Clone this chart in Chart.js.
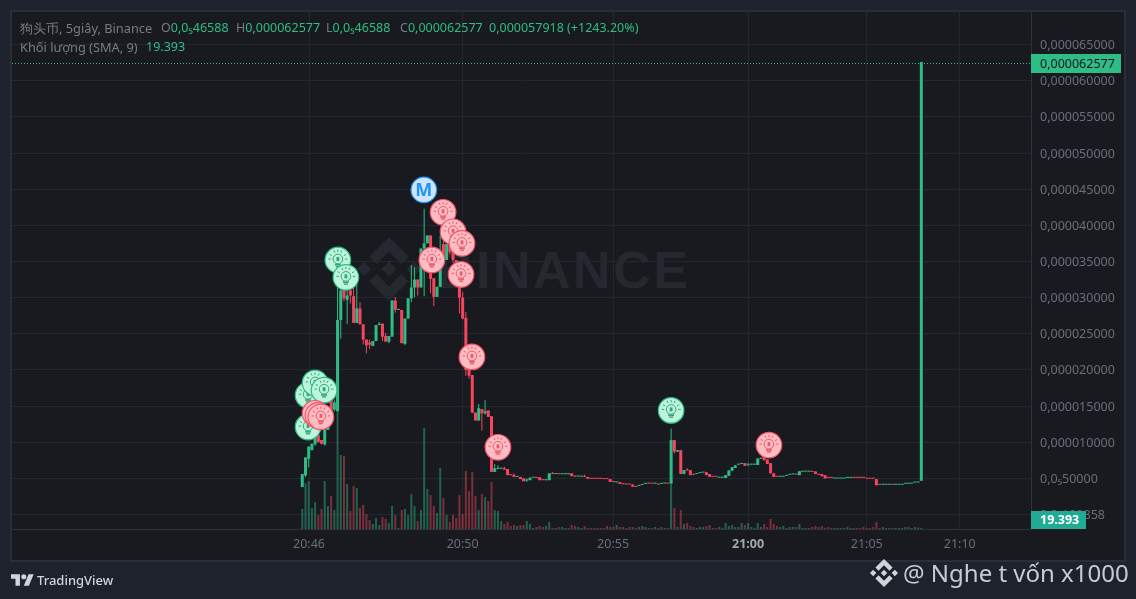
<!DOCTYPE html>
<html>
<head>
<meta charset="utf-8">
<title>狗头币, 5giây, Binance</title>
<script src="https://cdn.jsdelivr.net/npm/chart.js@4"></script>
<style>
    html, body { margin: 0; padding: 0; background: #1e222d; overflow: hidden; }
    body { width: 1136px; height: 599px; position: relative; font-family: "Noto Sans", sans-serif; }
    #panel { position: absolute; left: 10px; top: 10px; width: 1112px; height: 548px; background: #181a20; border: 2px solid #2a2e39; }
    #chart { position: absolute; left: 0; top: 0; }
    .wm { position: absolute; color: #25282f; fill: #25282f; }
    .t { position: absolute; font-size: 12.5px; line-height: 16px; white-space: nowrap; color: #787b86; }
    .g { color: #2ebd85; }
</style>
</head>
<body>
<div id="panel"></div>
<svg class="wm" style="left:357px;top:237px" width="64" height="64" viewBox="0 0 126.61 126.61">
    <polygon points="38.73,53.2 63.31,28.62 87.9,53.21 102.2,38.91 63.31,0 24.42,38.9"/>
    <polygon points="38.73,73.41 63.31,97.99 87.9,73.4 102.21,87.69 63.31,126.61 24.42,87.71"/>
    <polygon points="14.3,49 28.6,63.3 14.3,77.6 0,63.3"/>
    <polygon points="112.3,49 126.6,63.3 112.3,77.6 98,63.3"/>
    <polygon points="63.3,48.8 77.8,63.3 63.3,77.8 48.8,63.3"/>
</svg>
<div class="wm" style="left:436px;top:235px;font:bold 52px 'Liberation Sans',sans-serif;line-height:70px;letter-spacing:2.5px">BINANCE</div>
<canvas id="chart" width="1136" height="599"></canvas>

<div class="t" style="left:20px;top:20px;font-size:12.8px">狗头币, 5giây, Binance</div>
<div class="t" style="left:161px;top:20px">O<span class="g">0,0₅46588</span></div>
<div class="t" style="left:236px;top:20px">H<span class="g">0,000062577</span></div>
<div class="t" style="left:326px;top:20px">L<span class="g">0,0₅46588</span></div>
<div class="t" style="left:400px;top:20px">C<span class="g">0,000062577</span></div>
<div class="t g" style="left:489px;top:20px">0,000057918 (+1243.20%)</div>
<div class="t" style="left:20px;top:39px;font-size:12.8px">Khối lượng (SMA, 9)</div>
<div class="t g" style="left:146px;top:39px">19.393</div>

<svg style="position:absolute;left:11px;top:573px" width="23" height="14" viewBox="0 3 36 20" fill="#d1d4dc">
    <path d="M14 22H7V11H0V4h14v18zM28 22h-8l7.5-18h8L28 22z"/><circle cx="20" cy="8" r="4"/>
</svg>
<div class="t" style="left:37px;top:572px;font-size:13px;color:#d1d4dc;font-weight:500">TradingView</div>

<svg style="position:absolute;left:870px;top:559px" width="28" height="28" viewBox="0 0 126.61 126.61" fill="#d0d3d8">
    <polygon points="38.73,53.2 63.31,28.62 87.9,53.21 102.2,38.91 63.31,0 24.42,38.9"/>
    <polygon points="38.73,73.41 63.31,97.99 87.9,73.4 102.21,87.69 63.31,126.61 24.42,87.71"/>
    <polygon points="14.3,49 28.6,63.3 14.3,77.6 0,63.3"/>
    <polygon points="112.3,49 126.6,63.3 112.3,77.6 98,63.3"/>
    <polygon points="63.3,48.8 77.8,63.3 63.3,77.8 48.8,63.3"/>
</svg>
<div class="t" style="left:903px;top:558px;font-size:24px;line-height:30px;color:#c8ccd2">@ Nghe t vốn x1000</div>

<script>
// prices are in units of 0.000001
const opens = [
    3.8,5.4,7.7,8.9,9.7,11,10.3,9.7,11.7,15.8,
    14.5,14.3,26.9,31.9,29.7,31,30.2,26.5,28.5,26.3,
    24.2,23.8,23.3,24,26.2,26.4,24.7,23.9,24.6,29.6,
    28.3,28.3,23.6,27.1,29.9,31.4,32.5,31.4,36.8,37.5,
    38.6,32.7,30.1,31.5,37.4,35.2,37.4,36.3,35.2,33,
    30,27.2,20,19.3,14.1,13,14.6,14,14.4,13.6,
    5.9,6.3,6.35,6.4,6.3,5.5,5.45,5.2,5.2,5,
    4.7,4.75,5.1,5.12,5.15,4.8,4.75,4.75,5.7,5.6,
    5.62,5.58,5.58,5.58,5.7,5.35,5.25,5.25,5.3,5.2,
    5,5,5,5,5,5,4.9,4.55,4.45,4.5,
    4.3,4.2,4.2,4.15,3.9,3.97,4.1,4.25,4.32,4.3,
    4.28,4.25,4.25,4.3,4.32,4.3,10.3,8.7,8.9,5.6,
    6.15,6.15,5.55,5.6,5.75,5.8,5.85,5.6,5.27,5.27,
    5.1,5.1,5.05,5.35,6.05,6.45,6.9,7,7.1,6.8,
    6.9,6.9,6.85,7.7,8,7.6,7.1,5.7,5.27,5.22,
    5.22,5.35,5.5,5.55,5.58,5.45,5.93,5.93,5.93,5.96,
    5.95,5.6,5.6,5.45,5.12,5.12,4.98,4.98,4.98,4.98,
    5.07,5.07,5.12,5.12,5.12,5.12,5,5,5,4.9,
    4.17,4.12,4.12,4.12,4.17,4.12,4.12,4.12,4.26,4.26,
    4.28,4.43,4.43,4.6588
];
const closes = [
    5.6,7.9,9.4,9.8,10.7,10,9.8,11.7,14,14.5,
    15.5,26.9,31,29.9,30.3,30.3,26.5,28.5,26.3,24.2,
    23.4,23.5,24,26.2,26.4,24.6,23.9,24.7,29.6,28.3,
    28.35,23.7,27.1,29.9,31.4,32.5,31.4,36.8,37.5,38.6,
    32.6,30.1,31.5,36,35.5,37.4,36.3,35.2,33,30,
    27.1,20,19.2,14.1,13,14.7,14,14.3,13.5,5.9,
    6.4,6.45,6.42,6.2,5.45,5.45,5.2,5.22,4.9,4.6,
    4.85,5.1,5.12,5.05,4.75,4.75,4.78,5.7,5.6,5.62,
    5.58,5.62,5.62,5.62,5.3,5.25,5.3,5.28,5.2,4.95,
    4.95,4.95,4.95,4.95,4.9,4.9,4.5,4.5,4.5,4.25,
    4.2,4.15,4.15,3.85,3.82,4.05,4.2,4.3,4.28,4.27,
    4.32,4.15,4.3,4.33,4.28,10.3,8.7,8.9,5.6,6.15,
    6.1,5.45,5.5,5.65,5.8,5.85,5.45,5.2,5.22,5.22,
    5.13,5.13,5.45,6.1,6.55,6.8,6.95,7.1,6.75,6.9,
    6.95,6.95,7.75,7.85,7.5,7,5.7,5.2,5.22,5.25,
    5.25,5.4,5.55,5.58,5.53,6,5.96,5.96,5.96,5.9,
    5.6,5.5,5.3,5,5.07,5.07,5,5,5,5,
    5.1,5.1,5.08,5.08,5.08,5.08,4.96,4.96,4.96,4.05,
    4.12,4.15,4.15,4.15,4.12,4.15,4.15,4.15,4.3,4.3,
    4.32,4.46,4.46,62.577
];
const lows = [
    3.8,5.2,6.5,8.9,9.5,10,9.7,9.5,11.7,14.5,
    14.3,14.3,24.3,29.5,26.4,29.2,26.5,26.5,26.3,23.5,
    22.3,22.9,23.3,24,26.2,24,23.9,23.7,24.6,27.9,
    28.3,23.7,23.4,27.1,29.4,30,30.3,31.4,30.2,37.5,
    30.6,28.8,30.1,31.5,35.5,35.2,36,34.8,33,27.8,
    27,19.2,18.8,14,13,13,11.6,13.8,13.5,5.9,
    5.9,6.3,6.35,6.2,5.45,5.45,5.2,5.2,4.9,4.6,
    4.5,4.75,5.1,5.05,4.75,4.75,4.75,4.75,5.6,5.6,
    5.58,5.58,5.58,5.58,5.3,5.2,5.25,5.25,5.2,4.95,
    4.95,4.95,4.95,4.95,4.9,4.9,4.5,4.5,4.45,4.25,
    4.2,4.15,4.15,3.85,3.82,3.97,4.1,4.25,4.28,4.27,
    4.28,4.15,4.25,4.3,4.28,4.3,8.45,8.7,5.6,5.6,
    6.1,5.45,5.5,5.6,5.75,5.8,5.45,5.2,5.22,5.22,
    5.1,5.1,5.05,5.35,6.05,6.45,6.9,7,6.75,6.8,
    6.9,6.9,6.85,7.7,7.5,7,5.7,5.2,5.22,5.22,
    5.22,5.35,5.5,5.55,5.53,5.45,5.93,5.93,5.93,5.9,
    5.6,5.5,5.3,5,5.07,5.07,4.98,4.98,4.98,4.98,
    5.07,5.07,5.08,5.08,5.08,5.08,4.96,4.96,4.96,4.05,
    4.12,4.12,4.12,4.12,4.12,4.12,4.12,4.12,4.26,4.26,
    4.28,4.43,4.43,4.6588
];
const highs = [
    5.6,7.9,9.4,9.8,10.7,11.2,10.3,11.7,14,16,
    15.8,31.5,35,32.5,33,32,31.5,31.9,29.4,26.3,
    24.2,24.2,24,26.2,26.6,26.4,25.1,24.7,29.6,30.1,
    28.35,28.3,27.1,29.9,34.5,34.2,32.5,36.8,42.3,38.6,
    38.6,32.7,31.5,38.6,38,37.4,37.8,36.3,35.2,33,
    30.8,28,20.3,19.3,14.1,15.3,14.6,15.8,14.4,13.6,
    7,6.8,6.42,6.6,6.3,5.5,5.7,5.22,5.2,5,
    5,5.1,5.12,5.12,5.15,4.8,4.78,5.7,5.9,5.62,
    5.62,5.62,5.62,5.62,5.7,5.35,5.3,5.28,5.5,5.2,
    5,5,5,5,5,5,4.9,4.55,4.5,4.5,
    4.3,4.2,4.2,4.15,3.9,4.05,4.2,4.3,4.32,4.3,
    4.32,4.25,4.3,4.33,4.32,11.9,10.3,8.9,8.9,6.15,
    6.4,6.15,5.55,5.65,5.8,5.85,5.85,5.6,5.27,5.27,
    5.13,5.13,5.45,6.1,6.55,6.8,6.95,7.1,7.1,7.15,
    6.95,6.95,7.75,7.85,8,7.6,7.1,5.7,5.27,5.25,
    5.25,5.4,5.55,5.58,5.58,6,5.96,5.96,5.96,5.96,
    5.95,5.6,5.6,5.45,5.12,5.12,5,5,5,5,
    5.1,5.1,5.12,5.12,5.12,5.12,5,5,5,4.9,
    4.17,4.15,4.15,4.15,4.17,4.15,4.15,4.15,4.3,4.3,
    4.32,4.46,4.46,62.577
];
const volumes = [
    400,920,960,420,540,280,400,960,460,660,
    380,2360,1480,1460,900,360,860,820,420,480,
    300,180,100,220,80,240,200,120,460,280,
    20,380,400,280,700,460,160,380,2020,800,
    680,460,320,1220,620,280,140,280,220,680,
    300,1160,760,1140,660,380,700,640,560,940,
    380,360,160,100,140,60,80,60,80,80,
    160,100,20,40,60,40,60,140,20,20,
    40,40,20,20,80,60,40,20,60,20,
    20,20,20,20,20,60,40,40,80,40,
    40,20,40,40,20,40,60,40,20,20,
    40,20,40,20,20,920,420,40,380,100,
    120,60,40,20,40,40,60,80,20,20,
    40,20,120,60,80,40,40,120,80,120,
    40,20,120,40,100,40,200,100,60,40,
    60,20,40,40,40,100,20,20,20,40,
    60,40,60,26,40,20,20,20,20,20,
    40,20,20,20,20,40,20,20,40,140,
    20,40,20,20,20,20,20,20,40,40,
    20,40,30,19.393
];

const priceTicks = [0, 5, 10, 15, 20, 25, 30, 35, 40, 45, 50, 55, 60, 65];
const priceLabels = ['0,0₆100858', '0,0₅50000', '0,000010000', '0,000015000', '0,000020000', '0,000025000', '0,000030000',
    '0,000035000', '0,000040000', '0,000045000', '0,000050000', '0,000055000', '0,000060000', '0,000065000'];
const timeTicks = [2.1, 50, 96.9, 139, 176, 205];
const timeLabels = ['20:46', '20:50', '20:55', '21:00', '21:05', '21:10'];

const lastPrice = 62.577;
const lastPriceLabel = '0,000062577';
const lastVolumeLabel = '19.393';

// signals: bar position, price, kind
const markerBars = [1.8, 4, 6.8, 1.8, 4, 4.9, 5.8, 11.1, 13.6, 37.9, 43.9, 47, 49.8, 40.4, 49.5, 52.9, 61, 115, 145.5];
const markerPrices = [16.5, 18.2, 17.2, 12.1, 14, 13.7, 13.5, 35.2, 32.8, 44.9, 41.8, 39.1, 37.5, 35.2, 33.2, 21.8, 9.3, 14.4, 9.6];
const markerKinds = ['buy', 'buy', 'buy', 'buy', 'sell', 'sell', 'sell', 'buy', 'buy', 'm', 'sell', 'sell', 'sell', 'sell', 'sell', 'sell', 'sell', 'buy', 'sell'];

const GREEN = '#2ebd85';
const RED = '#f6465d';
const GRID = '#24272e';
const TEXT = '#696e7a';
const FONT = '"Noto Sans", sans-serif';

const markerStyles = {
    buy: { fill: '#bcf5dc', line: '#30b987', icon: '#35a67c' },
    sell: { fill: '#ffbcc2', line: '#f4566a', icon: '#e95c6c' },
    m: { fill: '#cfe5ff', line: '#2196f3', icon: '#2196f3' }
};

function drawBulb(ctx, x, y, color) {
    ctx.strokeStyle = color;
    ctx.fillStyle = color;
    ctx.lineWidth = 1;
    ctx.beginPath();
    ctx.arc(x, y - 1, 4.8, 0, Math.PI * 2);
    ctx.stroke();
    ctx.fillRect(x - 1.4, y - 3, 2.8, 4);
    ctx.fillRect(x - 3, y + 4, 6, 1.6);
    ctx.fillRect(x - 2, y + 6, 4, 1.4);
    // rays
    [-150, -115, -90, -65, -30, 180, 0].forEach(a => {
        const r = a * Math.PI / 180;
        ctx.beginPath();
        ctx.moveTo(x + Math.cos(r) * 7, y - 1 + Math.sin(r) * 7);
        ctx.lineTo(x + Math.cos(r) * 9.5, y - 1 + Math.sin(r) * 9.5);
        ctx.stroke();
    });
}

const overlays = {
    id: 'overlays',
    afterDatasetsDraw(chart) {
        const { ctx, chartArea, scales } = chart;
        const py = scales.y.getPixelForValue(lastPrice);

        ctx.save();
        // last price line
        ctx.strokeStyle = GREEN;
        ctx.lineWidth = 1;
        ctx.setLineDash([1, 2]);
        ctx.beginPath();
        ctx.moveTo(chartArea.left, Math.round(py) + 1.5);
        ctx.lineTo(chartArea.right, Math.round(py) + 1.5);
        ctx.stroke();
        ctx.setLineDash([]);

        // signal bubbles
        markerBars.forEach((bar, i) => {
            const x = scales.x.getPixelForValue(bar);
            const y = scales.y.getPixelForValue(markerPrices[i]);
            const style = markerStyles[markerKinds[i]];
            ctx.beginPath();
            ctx.arc(x, y, 12.8, 0, Math.PI * 2);
            ctx.fillStyle = style.fill;
            ctx.fill();
            ctx.strokeStyle = style.line;
            ctx.lineWidth = 1.2;
            ctx.stroke();
            if (markerKinds[i] === 'm') {
                ctx.fillStyle = style.icon;
                ctx.font = 'bold 18px ' + FONT;
                ctx.textAlign = 'center';
                ctx.textBaseline = 'middle';
                ctx.fillText('M', x, y + 0.5);
            } else {
                drawBulb(ctx, x, y, style.icon);
            }
        });
        ctx.restore();
    },
    afterDraw(chart) {
        const { ctx, chartArea, scales } = chart;
        const py = Math.round(scales.y.getPixelForValue(lastPrice)) + 1;

        ctx.save();
        ctx.textBaseline = 'middle';
        ctx.textAlign = 'left';

        // price badge
        ctx.fillStyle = GREEN;
        ctx.fillRect(chartArea.right, py - 9, 90, 19);
        ctx.fillStyle = '#131722';
        ctx.font = '12.5px ' + FONT;
        ctx.fillText(lastPriceLabel, chartArea.right + 9, py + 1);

        // volume badge
        ctx.fillStyle = '#22ab94';
        ctx.fillRect(chartArea.right, chartArea.bottom - 18, 55, 18);
        ctx.fillStyle = '#ffffff';
        ctx.font = 'bold 12.5px ' + FONT;
        ctx.fillText(lastVolumeLabel, chartArea.right + 9, chartArea.bottom - 8.5);
        ctx.restore();
    }
};

const bars = opens.map((_, i) => i);
const isUp = i => closes[i] >= opens[i];

new Chart(document.getElementById('chart'), {
    type: 'bar',
    data: {
        datasets: [
            {
                label: 'Candle body',
                data: bars.map(i => ({ x: i, y: [opens[i], closes[i]] })),
                backgroundColor: bars.map(i => isUp(i) ? GREEN : RED),
                barThickness: 3,
                minBarLength: 1,
                inflateAmount: 0,
                grouped: false,
                yAxisID: 'y',
                order: 1
            },
            {
                label: 'Candle wick',
                data: bars.map(i => ({ x: i, y: [lows[i], highs[i]] })),
                backgroundColor: bars.map(i => isUp(i) ? GREEN : RED),
                barThickness: 1,
                inflateAmount: 0,
                grouped: false,
                yAxisID: 'y',
                order: 2
            },
            {
                label: 'Khối lượng',
                data: bars.map(i => ({ x: i, y: volumes[i] })),
                backgroundColor: bars.map(i => isUp(i) ? 'rgba(46,189,133,0.45)' : 'rgba(246,70,93,0.45)'),
                barThickness: 2,
                inflateAmount: 0,
                grouped: false,
                yAxisID: 'volume',
                order: 3
            }
        ]
    },
    options: {
        responsive: false,
        animation: false,
        devicePixelRatio: 1,
        layout: { autoPadding: false, padding: { left: 12, top: 12, right: 13, bottom: 40 } },
        plugins: { legend: { display: false }, tooltip: { enabled: false } },
        scales: {
            x: {
                type: 'linear',
                offset: false,
                min: -90.5,
                max: 227.2,
                afterBuildTicks: scale => { scale.ticks = timeTicks.map(v => ({ value: v })); },
                afterFit: scale => { scale.height = 30; },
                grid: { color: GRID, offset: false, drawTicks: false },
                border: { color: '#2e323b' },
                ticks: {
                    autoSkip: false,
                    maxRotation: 0,
                    padding: 8,
                    color: ctx => timeLabels[ctx.index] === '21:00' ? '#a4a8b2' : TEXT,
                    font: ctx => ({ family: FONT, size: 12.5, weight: timeLabels[ctx.index] === '21:00' ? 'bold' : 'normal' }),
                    callback: (value, index) => timeLabels[index]
                }
            },
            y: {
                position: 'right',
                min: -2.0,
                max: 69.5,
                afterBuildTicks: scale => { scale.ticks = priceTicks.map(v => ({ value: v })); },
                afterFit: scale => {
                    scale.width = 92;
                    scale.paddingTop = 0;
                    scale.paddingBottom = 0;
                },
                grid: { color: GRID, drawTicks: false },
                border: { color: '#2e323b' },
                ticks: {
                    autoSkip: false,
                    padding: 9,
                    labelOffset: 1,
                    color: TEXT,
                    font: { family: FONT, size: 12.5 },
                    callback: (value, index) => priceLabels[index]
                }
            },
            volume: { display: false, min: 0, max: 10340 }
        }
    },
    plugins: [overlays]
});
</script>
</body>
</html>
